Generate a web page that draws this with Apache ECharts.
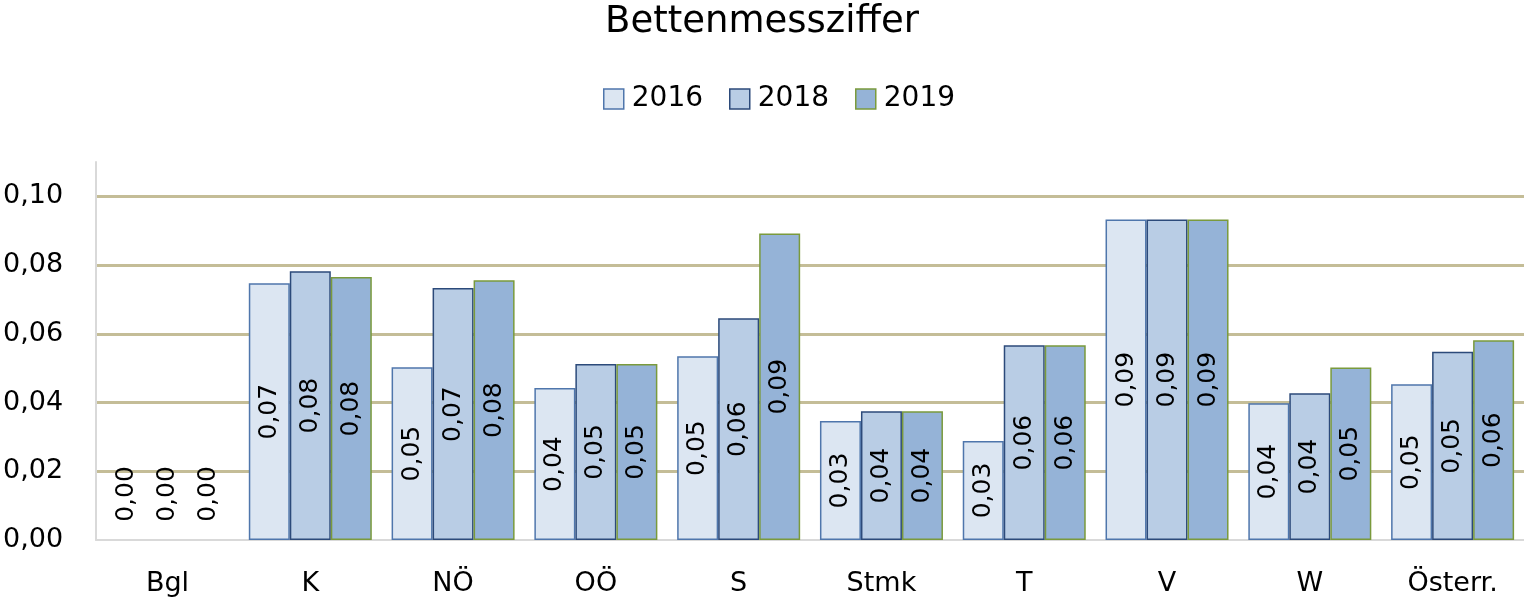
<!DOCTYPE html>
<html>
<head>
<meta charset="utf-8">
<script src="https://cdn.jsdelivr.net/npm/echarts@6/dist/echarts.min.js"></script>
<style>html,body{margin:0;padding:0;background:#fff}#c{width:1524px;height:603px}</style>
</head>
<body>
<div id="c"></div>
<script>
const categories = ['Bgl', 'K', 'NÖ', 'OÖ', 'S', 'Stmk', 'T', 'V', 'W', 'Österr.'];
const seriesNames = ['2016', '2018', '2019'];
const values2016 = [0, 0.0747, 0.0503, 0.0442, 0.0535, 0.0346, 0.0288, 0.0933, 0.0398, 0.0453];
const values2018 = [0, 0.0782, 0.0733, 0.0512, 0.0645, 0.0375, 0.0567, 0.0933, 0.0427, 0.0548];
const values2019 = [0, 0.0765, 0.0756, 0.0512, 0.0892, 0.0375, 0.0567, 0.0933, 0.0502, 0.0581];
const yTicks = [0, 0.02, 0.04, 0.06, 0.08, 0.10];

const FONT = 'DejaVu Sans';
const fills = ['#DCE6F2', '#B9CDE5', '#95B3D7'];
const borders = ['#4F76AC', '#2C4A7A', '#7A9A3C'];
const allValues = [values2016, values2018, values2019];

function fmt(v) { return v.toFixed(2).replace('.', ','); }

const series = seriesNames.map((name, i) => ({
  name: name,
  type: 'bar',
  barWidth: 41,
  barGap: '0%',
  data: allValues[i].map(v => v === 0
    ? { value: v, label: { offset: [46, 0] }, itemStyle: { borderWidth: 0 } }
    : v),
  itemStyle: { color: fills[i], borderColor: borders[i], borderWidth: 1.5 },
  label: {
    show: true,
    position: 'inside',
    rotate: 90,
    formatter: p => fmt(p.value),
    fontFamily: FONT,
    fontSize: 25,
    color: '#000'
  }
}));

const chart = echarts.init(document.getElementById('c'), null, { renderer: 'canvas' });
chart.setOption({
  animation: false,
  backgroundColor: '#fff',
  title: {
    text: 'Bettenmessziffer',
    left: 'center',
    top: -1,
    textStyle: { fontFamily: FONT, fontSize: 37, fontWeight: 'normal', color: '#000' }
  },
  legend: {
    data: seriesNames,
    top: 80,
    left: 598,
    icon: 'rect',
    itemWidth: 20,
    itemHeight: 20,
    itemGap: 26,
    textStyle: { fontFamily: FONT, fontSize: 28, color: '#000', padding: [0, 0, 0, 3] },
    itemStyle: { borderWidth: 1.5 }
  },
  grid: { left: 95, right: 0, top: 162, bottom: 63, containLabel: false },
  xAxis: {
    type: 'category',
    data: categories,
    axisLine: { show: true, lineStyle: { color: '#D9D9D9', width: 2 } },
    axisTick: { show: false },
    axisLabel: { fontFamily: FONT, fontSize: 27, color: '#000', margin: 30 }
  },
  yAxis: {
    type: 'value',
    min: 0,
    max: 0.11,
    interval: 0.02,
    axisLine: { show: true, lineStyle: { color: '#D9D9D9', width: 2 } },
    axisTick: { show: false },
    axisLabel: {
      fontFamily: FONT, fontSize: 27, color: '#000', margin: 33,
      showMaxLabel: false,
      formatter: v => yTicks.some(t => Math.abs(t - v) < 1e-9) ? fmt(v) : ''
    },
    splitLine: { show: true, showMinLine: false, showMaxLine: false, lineStyle: { color: '#C4BD97', width: 3 } }
  },
  series: series
});
</script>
</body>
</html>
